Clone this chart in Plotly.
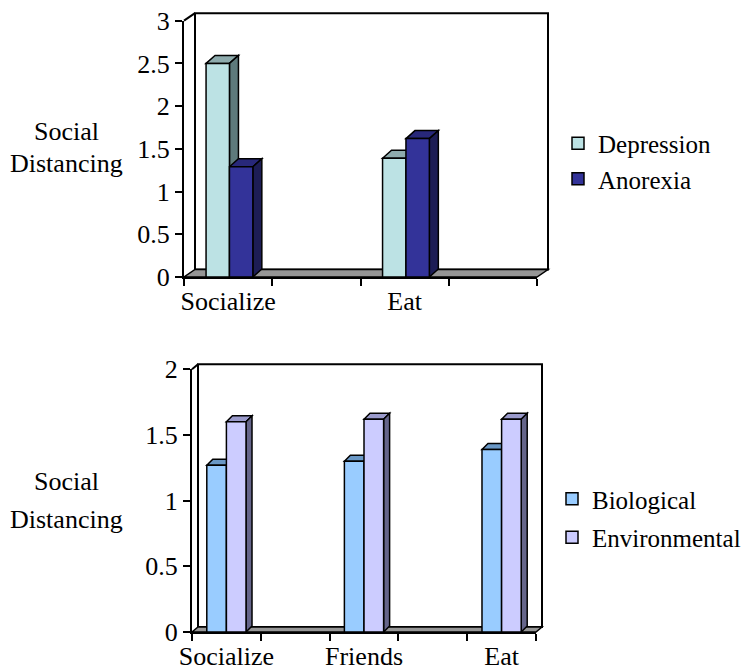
import plotly.graph_objects as go

W, H = 744, 671
FONT = "'Liberation Serif', 'Times New Roman', Times, serif"
FONT_SIZE = 26
LEGEND_FONT_SIZE = 25

# ---- data -------------------------------------------------------------
top_categories = ["Socialize", "", "Eat", ""]
depression = [2.5, None, 1.39, None]
anorexia = [1.29, None, 1.62, None]
top_yticks = [0, 0.5, 1, 1.5, 2, 2.5, 3]

bottom_categories = ["Socialize", "", "Friends", "", "Eat"]
biological = [1.27, None, 1.30, None, 1.39]
environmental = [1.60, None, 1.62, None, 1.62]
bottom_yticks = [0, 0.5, 1, 1.5, 2]

y_title_lines = ["Social", "Distancing"]

# ---- styles -----------------------------------------------------------
# (front, top, side) face colours for each series
STYLE = {
    "Depression": ("#BCE2E4", "#8EABAD", "#5E7A7C"),
    "Anorexia": ("#333399", "#28287A", "#1D1D55"),
    "Biological": ("#99CCFF", "#6A98C6", "#4B6682"),
    "Environmental": ("#CCCCFF", "#9A9ACB", "#65658A"),
}

# panel geometry in pixels: plot box, 3-D depth of frame and of bars
PANELS = [
    dict(xa="x", ya="y", left=184, right=537, bottom=277, top=20.7,
         frame_d=(11, 7.5), bar_d=(9, 8), bar_w=0.265, offsets=(-0.25, 0.015),
         legend="legend", title_ys=(131, 163)),
    dict(xa="x2", ya="y2", left=192, right=536, bottom=632, top=369.3,
         frame_d=(6, 5), bar_d=(6, 6), bar_w=0.285, offsets=(-0.285, 0.0),
         legend="legend2", title_ys=(481, 519)),
]


def px(x):
    return x / W


def py(y):
    return 1 - y / H


fig = go.Figure()
shapes = []
annotations = []


def build_panel(p, categories, series, yticks):
    n = len(categories)
    ymax = yticks[-1]
    slot_px = (p["right"] - p["left"]) / n
    unit_px = (p["bottom"] - p["top"]) / ymax
    bdx = p["bar_d"][0] / slot_px
    bdy = p["bar_d"][1] / unit_px

    # back wall, floor and the little connector at the top of the value axis
    x0, x1 = px(p["left"]), px(p["right"])
    y0, y1 = py(p["bottom"]), py(p["top"])
    fdx, fdy = p["frame_d"][0] / W, p["frame_d"][1] / H
    shapes.append(dict(type="rect", xref="paper", yref="paper", layer="below",
                       x0=x0 + fdx, x1=x1 + fdx, y0=y0 + fdy, y1=y1 + fdy,
                       line=dict(color="black", width=2), fillcolor="white"))
    shapes.append(dict(type="path", xref="paper", yref="paper", layer="below",
                       path=f"M{x0},{y0} L{x1},{y0} L{x1 + fdx},{y0 + fdy} "
                            f"L{x0 + fdx},{y0 + fdy} Z",
                       line=dict(color="black", width=1.5), fillcolor="#969696"))
    shapes.append(dict(type="line", xref="paper", yref="paper", layer="below",
                       x0=x0, y0=y1, x1=x0 + fdx, y1=y1 + fdy,
                       line=dict(color="black", width=2)))

    centers = [i + 0.5 for i in range(n)]
    for (name, values), off in zip(series, p["offsets"]):
        front, top, side = STYLE[name]
        fig.add_trace(go.Bar(
            name=name, x=centers, y=values, base=0, width=p["bar_w"], offset=off,
            marker=dict(color=front, line=dict(color="black", width=1.5)),
            xaxis=p["xa"], yaxis=p["ya"], legend=p["legend"], legendgroup=name,
        ))
        for c, v in zip(centers, values):
            if v is None:
                continue
            xl = c + off
            xr = xl + p["bar_w"]
            shapes.append(dict(
                type="path", xref=p["xa"], yref=p["ya"], layer="below",
                path=f"M{xl},{v} L{xl + bdx},{v + bdy} L{xr + bdx},{v + bdy} L{xr},{v} Z",
                fillcolor=top, line=dict(color="black", width=1.5)))
            shapes.append(dict(
                type="path", xref=p["xa"], yref=p["ya"], layer="below",
                path=f"M{xr},0 L{xr},{v} L{xr + bdx},{v + bdy} L{xr + bdx},{bdy} Z",
                fillcolor=side, line=dict(color="black", width=1.5)))

    labelled = [(c, t) for c, t in zip(centers, categories) if t]
    axis_font = dict(family=FONT, size=FONT_SIZE, color="black")
    xkey = "xaxis" if p["xa"] == "x" else "xaxis2"
    ykey = "yaxis" if p["ya"] == "y" else "yaxis2"
    fig.update_layout(**{
        xkey: dict(domain=[x0, x1], anchor=p["ya"], range=[0, n],
                   automargin=False,
                   showgrid=False, zeroline=False, showline=True,
                   linecolor="black", linewidth=2,
                   tickmode="array", tickvals=[c for c, _ in labelled],
                   ticktext=[t for _, t in labelled], ticks="",
                   minor=dict(tickmode="array", tickvals=list(range(n + 1)),
                              ticks="outside", ticklen=7, tickwidth=2,
                              tickcolor="black"),
                   tickfont=axis_font, fixedrange=True),
        ykey: dict(domain=[y0, y1], anchor=p["xa"], range=[0, ymax],
                   automargin=False,
                   showgrid=False, zeroline=False, showline=True,
                   linecolor="black", linewidth=2,
                   tickmode="array", tickvals=yticks,
                   ticktext=[f"{t:g}" for t in yticks],
                   ticks="outside", ticklen=7, tickwidth=2, tickcolor="black",
                   tickfont=axis_font, fixedrange=True),
    })
    for line, ty in zip(y_title_lines, p["title_ys"]):
        annotations.append(dict(text=line, xref="paper", yref="paper",
                                x=px(66), y=py(ty), showarrow=False,
                                xanchor="center", yanchor="middle",
                                font=dict(family=FONT, size=FONT_SIZE, color="black")))


build_panel(PANELS[0], top_categories,
            [("Depression", depression), ("Anorexia", anorexia)], top_yticks)
build_panel(PANELS[1], bottom_categories,
            [("Biological", biological), ("Environmental", environmental)],
            bottom_yticks)

legend_font = dict(family=FONT, size=LEGEND_FONT_SIZE, color="black")
fig.update_layout(
    width=W, height=H,
    margin=dict(l=0, r=0, t=0, b=0, autoexpand=False),
    paper_bgcolor="white", plot_bgcolor="rgba(0,0,0,0)",
    barmode="overlay",
    showlegend=True,
    legend=dict(x=px(558), y=py(161), xanchor="left", yanchor="middle",
                xref="container", yref="container",
                font=legend_font, traceorder="grouped", tracegroupgap=0,
                bgcolor="rgba(0,0,0,0)"),
    legend2=dict(x=px(552), y=py(518), xanchor="left", yanchor="middle",
                 xref="container", yref="container",
                 font=legend_font, traceorder="grouped", tracegroupgap=3,
                 bgcolor="rgba(0,0,0,0)"),
    shapes=shapes,
    annotations=annotations,
)

fig.write_html("out.html")
